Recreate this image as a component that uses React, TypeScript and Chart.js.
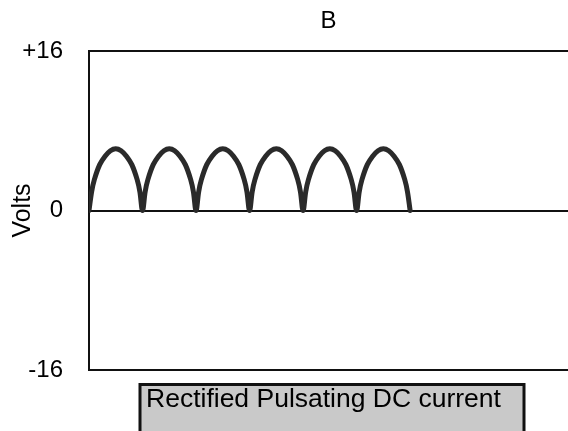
import React, { useEffect, useRef } from "react";
import { Chart, registerables } from "chart.js";

Chart.register(...registerables);

const chartTitle = "B";
const yAxisLabel = "Volts";
const captionText = "Rectified Pulsating DC current";
const yTickValues = [-16, 0, 16];
const xMin = 0;
const xMax = 8.95;

const timeValues = [
  0, 0.05, 0.1, 0.2, 0.3, 0.4, 0.5, 0.6, 0.7, 0.8, 0.9, 0.95,
  1, 1.05, 1.1, 1.2, 1.3, 1.4, 1.5, 1.6, 1.7, 1.8, 1.9, 1.95,
  2, 2.05, 2.1, 2.2, 2.3, 2.4, 2.5, 2.6, 2.7, 2.8, 2.9, 2.95,
  3, 3.05, 3.1, 3.2, 3.3, 3.4, 3.5, 3.6, 3.7, 3.8, 3.9, 3.95,
  4, 4.05, 4.1, 4.2, 4.3, 4.4, 4.5, 4.6, 4.7, 4.8, 4.9, 4.95,
  5, 5.05, 5.1, 5.2, 5.3, 5.4, 5.5, 5.6, 5.7, 5.8, 5.9, 5.95,
  6,
];

const voltValues = [
  0, 1.9, 3.1, 4.6, 5.45, 6.0, 6.2, 6.0, 5.45, 4.6, 3.1, 1.9,
  0, 1.9, 3.1, 4.6, 5.45, 6.0, 6.2, 6.0, 5.45, 4.6, 3.1, 1.9,
  0, 1.9, 3.1, 4.6, 5.45, 6.0, 6.2, 6.0, 5.45, 4.6, 3.1, 1.9,
  0, 1.9, 3.1, 4.6, 5.45, 6.0, 6.2, 6.0, 5.45, 4.6, 3.1, 1.9,
  0, 1.9, 3.1, 4.6, 5.45, 6.0, 6.2, 6.0, 5.45, 4.6, 3.1, 1.9,
  0, 1.9, 3.1, 4.6, 5.45, 6.0, 6.2, 6.0, 5.45, 4.6, 3.1, 1.9,
  0,
];

const FONT = "'Liberation Sans', Arial, Helvetica, sans-serif";

const captionPlugin = {
  id: "captionBox",
  afterDraw(chart: any) {
    const ctx = chart.ctx as CanvasRenderingContext2D;
    ctx.save();
    ctx.fillStyle = "#c9c9c9";
    ctx.fillRect(139, 383, 386, 60);
    ctx.lineWidth = 3;
    ctx.strokeStyle = "#111";
    ctx.strokeRect(140, 384.5, 384, 60);
    ctx.fillStyle = "#000";
    ctx.font = `26.5px ${FONT}`;
    ctx.textBaseline = "alphabetic";
    ctx.textAlign = "left";
    ctx.fillText(captionText, 146, 407);
    ctx.restore();
  },
};

export default function App() {
  const canvasRef = useRef<HTMLCanvasElement | null>(null);

  useEffect(() => {
    if (!canvasRef.current) return;
    const points = timeValues.map((t, i) => ({ x: t, y: voltValues[i] }));
    const chart = new Chart(canvasRef.current, {
      type: "line",
      data: {
        datasets: [
          {
            data: points,
            borderColor: "#2a2a2a",
            borderWidth: 5,
            pointRadius: 0,
            tension: 0.35,
            fill: false,
            borderJoinStyle: "round",
            borderCapStyle: "round",
            xAxisID: "x",
            yAxisID: "y",
          },
        ],
      },
      options: {
        responsive: false,
        maintainAspectRatio: false,
        animation: false,
        devicePixelRatio: 1,
        layout: { padding: 0 },
        plugins: {
          legend: { display: false },
          tooltip: { enabled: false },
          title: {
            display: true,
            text: chartTitle,
            color: "#000",
            align: "center",
            fullSize: false,
            font: { family: FONT, size: 24, weight: "normal", lineHeight: 1.2 },
            padding: { top: 7, bottom: 0 },
          },
        },
        scales: {
          x: {
            type: "linear",
            position: "bottom",
            min: xMin,
            max: xMax,
            ticks: { display: false },
            grid: { display: false, drawTicks: false },
            border: { display: true, color: "#111", width: 2 },
            afterFit(s: any) {
              s.height = 61;
            },
          },
          xTop: {
            type: "linear",
            position: "top",
            min: xMin,
            max: xMax,
            ticks: { display: false },
            grid: { display: false, drawTicks: false },
            border: { display: true, color: "#111", width: 2 },
            afterFit(s: any) {
              s.height = 15.2;
            },
          },
          y: {
            type: "linear",
            position: "left",
            min: -16,
            max: 16,
            afterBuildTicks(s: any) {
              s.ticks = yTickValues.map((v) => ({ value: v }));
            },
            ticks: {
              color: "#000",
              font: { family: FONT, size: 24 },
              padding: 26,
              callback: (v: any) => (Number(v) > 0 ? `+${v}` : `${v}`),
            },
            grid: {
              drawTicks: false,
              lineWidth: 2,
              color: (c: any) =>
                c.tick && c.tick.value === 0 ? "#111" : "rgba(0,0,0,0)",
            },
            border: { display: true, color: "#111", width: 2 },
            title: {
              display: true,
              text: yAxisLabel,
              color: "#000",
              font: { family: FONT, size: 25 },
              padding: { top: 8, bottom: 0 },
            },
            afterFit(s: any) {
              s.width = 89;
            },
          },
        },
      },
      plugins: [captionPlugin],
    });
    return () => chart.destroy();
  }, []);

  return (
    <div
      style={{
        position: "absolute",
        left: 0,
        top: 0,
        width: 568,
        height: 431,
        background: "#fff",
        overflow: "hidden",
      }}
    >
      <canvas ref={canvasRef} width={568} height={431} style={{ display: "block" }} />
    </div>
  );
}
